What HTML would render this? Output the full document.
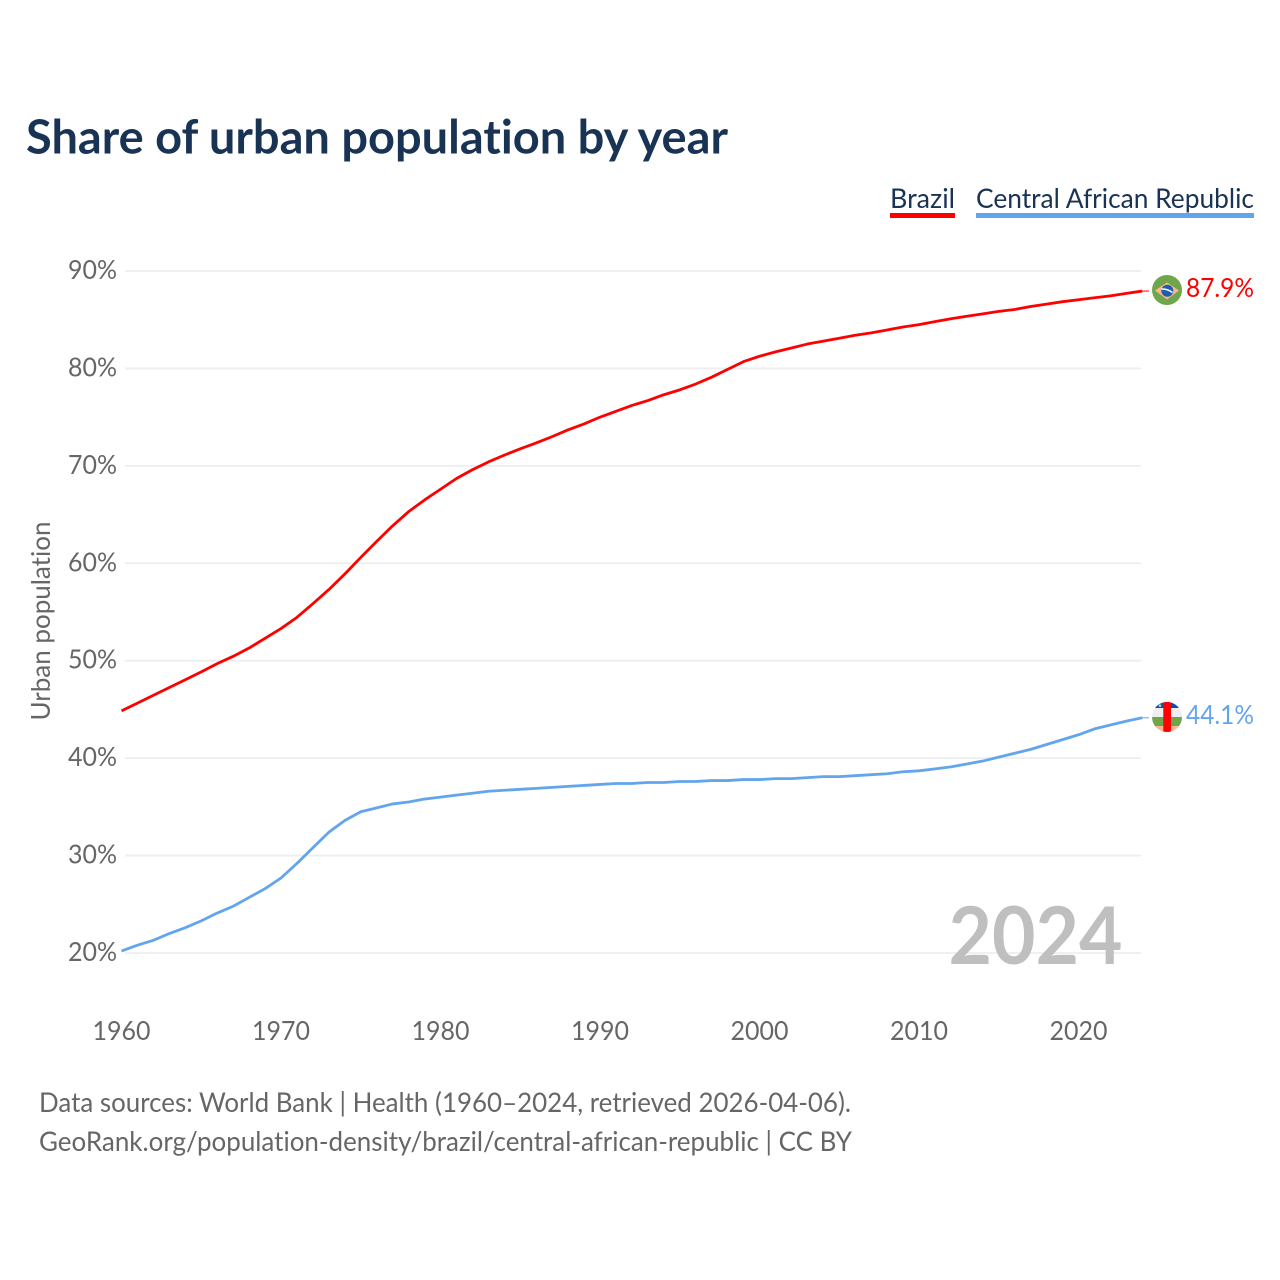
<!DOCTYPE html>
<html lang="en">
<head>
<meta charset="utf-8">
<title>Share of urban population by year</title>
<style>
html,body{margin:0;padding:0;background:#fff;width:1280px;height:1280px;overflow:hidden}
svg{display:block}
text{font-family:"Lato","Carlito","Liberation Sans",sans-serif;font-variant-ligatures:none;font-feature-settings:"liga" 0,"clig" 0}
</style>
</head>
<body>
<svg id="chart" xmlns="http://www.w3.org/2000/svg" width="1280" height="1280" viewBox="0 0 1280 1280">
  <defs>
    <clipPath id="clip-br"><circle cx="1167" cy="290" r="15"/></clipPath>
    <clipPath id="clip-cf"><circle cx="1167" cy="717" r="15"/></clipPath>
  </defs>
  <rect x="0" y="0" width="1280" height="1280" fill="#fff"/>
  <text x="26" y="153.5" font-size="46.5" font-weight="700" fill="#193354" textLength="702" lengthAdjust="spacingAndGlyphs">Share of urban population by year</text>
  <g>
    <text x="890" y="208" font-size="27" fill="#193354" textLength="65" lengthAdjust="spacingAndGlyphs">Brazil</text>
    <rect x="890" y="213" width="65" height="5" fill="#ff0000"/>
    <text x="976" y="208" font-size="27" fill="#193354" textLength="278" lengthAdjust="spacingAndGlyphs">Central African Republic</text>
    <rect x="976" y="213" width="278" height="5" fill="#63a5ec"/>
  </g>
  <g id="grid"></g>
  <g id="y-ticks"></g>
  <g id="x-ticks"></g>
  <text transform="translate(50,621) rotate(-90)" text-anchor="middle" font-size="26" fill="#666" textLength="199" lengthAdjust="spacingAndGlyphs">Urban population</text>
  <text x="948.5" y="964" font-size="80" font-weight="700" fill="#bfbfbf" textLength="174" lengthAdjust="spacingAndGlyphs">2024</text>
  <g id="series"></g>
  <g clip-path="url(#clip-br)">
    <rect x="1152" y="275" width="30" height="30" fill="#6fa64c"/>
    <polygon points="1155,290.5 1167,282.5 1179,290.5 1167,299.5" fill="#fdb58f"/>
    <circle cx="1167.3" cy="290.7" r="6" fill="#1c5fb0"/>
    <path d="M1161.5 289 Q1167 288.5 1172.5 292.5" stroke="#fff" stroke-width="1.5" fill="none"/>
  </g>
  <g clip-path="url(#clip-cf)">
    <rect x="1152" y="702" width="30" height="6" fill="#0a52a8"/>
    <rect x="1152" y="708" width="30" height="9" fill="#eeeeee"/>
    <rect x="1152" y="717" width="30" height="9" fill="#6fa64c"/>
    <rect x="1152" y="726" width="30" height="7" fill="#fdb58f"/>
    <rect x="1163.3" y="702" width="7.7" height="31" fill="#ff0000"/>
    <circle cx="1160" cy="705.7" r="1.3" fill="#c9c9a0"/>
  </g>
  <text id="value-br" x="1186" y="297" font-size="26" fill="#ff0000" textLength="68" lengthAdjust="spacingAndGlyphs"></text>
  <text id="value-cf" x="1186" y="724" font-size="26" fill="#63a5ec" textLength="68" lengthAdjust="spacingAndGlyphs"></text>
  <text x="39" y="1112" font-size="27" fill="#666" textLength="812" lengthAdjust="spacingAndGlyphs">Data sources: World Bank | Health (1960–2024, retrieved 2026-04-06).</text>
  <text x="39" y="1151" font-size="27" fill="#666" textLength="813" lengthAdjust="spacingAndGlyphs">GeoRank.org/population-density/brazil/central-african-republic | CC BY</text>
</svg>
<script>
const startYear = 1960;
const yTickValues = [20, 30, 40, 50, 60, 70, 80, 90];
const xTickValues = [1960, 1970, 1980, 1990, 2000, 2010, 2020];
const brazilValues = [44.85,45.65,46.45,47.25,48.05,48.85,49.7,50.45,51.3,52.3,53.3,54.45,55.85,57.3,58.9,60.6,62.25,63.85,65.3,66.5,67.6,68.7,69.6,70.4,71.1,71.75,72.35,73.0,73.7,74.3,75.0,75.6,76.2,76.7,77.3,77.8,78.4,79.1,79.9,80.7,81.25,81.7,82.1,82.5,82.8,83.1,83.4,83.65,83.95,84.25,84.5,84.8,85.1,85.35,85.6,85.85,86.05,86.35,86.6,86.85,87.05,87.25,87.45,87.7,87.94];
const carValues = [20.2,20.8,21.3,22.0,22.6,23.3,24.1,24.8,25.7,26.6,27.7,29.2,30.8,32.4,33.6,34.5,34.9,35.3,35.5,35.8,36.0,36.2,36.4,36.6,36.7,36.8,36.9,37.0,37.1,37.2,37.3,37.4,37.4,37.5,37.5,37.6,37.6,37.7,37.7,37.8,37.8,37.9,37.9,38.0,38.1,38.1,38.2,38.3,38.4,38.6,38.7,38.9,39.1,39.4,39.7,40.1,40.5,40.9,41.4,41.9,42.4,43.0,43.4,43.8,44.14];

const NS = 'http://www.w3.org/2000/svg';
function xScale(year) { return 121.5 + (year - 1960) * 15.95; }
function yScale(v) { return 953 - (v - 20) * 9.743; }
function make(tag, attrs, parent) {
  const el = document.createElementNS(NS, tag);
  for (const k in attrs) el.setAttribute(k, attrs[k]);
  parent.appendChild(el);
  return el;
}
const grid = document.getElementById('grid');
const yTicks = document.getElementById('y-ticks');
const xTicks = document.getElementById('x-ticks');
const series = document.getElementById('series');

yTickValues.forEach(function (v) {
  const line = make('line', { x1: 125, x2: 1141, y1: yScale(v), y2: yScale(v), stroke: '#eeeeee', 'stroke-width': 1.8 }, grid);
  
  
  const label = make('text', { x: 117, y: yScale(v) + 8, 'text-anchor': 'end', 'font-size': 26, fill: '#666', textLength: 49, lengthAdjust: 'spacingAndGlyphs' }, yTicks);
  label.textContent = v + '%';
  
  
});

xTickValues.forEach(function (year) {
  const label = make('text', { x: xScale(year), y: 1040, 'text-anchor': 'middle', 'font-size': 26, fill: '#666', textLength: 58, lengthAdjust: 'spacingAndGlyphs' }, xTicks);
  label.textContent = String(year);
  
  
});

function pointsFor(values) {
  return values.map(function (v, i) {
    return xScale(startYear + i).toFixed(2) + ',' + yScale(v).toFixed(2);
  }).join(' ');
}

const brazilLine = make('polyline', { points: pointsFor(brazilValues), fill: 'none', stroke: '#ff0000', 'stroke-width': 2.8, 'stroke-linejoin': 'round' }, series);



const carLine = make('polyline', { points: pointsFor(carValues), fill: 'none', stroke: '#63a5ec', 'stroke-width': 2.8, 'stroke-linejoin': 'round' }, series);



const brY = yScale(brazilValues[brazilValues.length - 1]);
const brazilLead = make('line', { x1: xScale(2024), x2: 1149, y1: brY, y2: brY, stroke: '#ff0000', 'stroke-width': 1 }, series);



const cfY = yScale(carValues[carValues.length - 1]);
const carLead = make('line', { x1: xScale(2024), x2: 1149, y1: cfY, y2: cfY, stroke: '#63a5ec', 'stroke-width': 1 }, series);



document.getElementById('value-br').textContent = brazilValues[brazilValues.length - 1].toFixed(1) + '%';
document.getElementById('value-cf').textContent = carValues[carValues.length - 1].toFixed(1) + '%';
</script>
</body>
</html>
